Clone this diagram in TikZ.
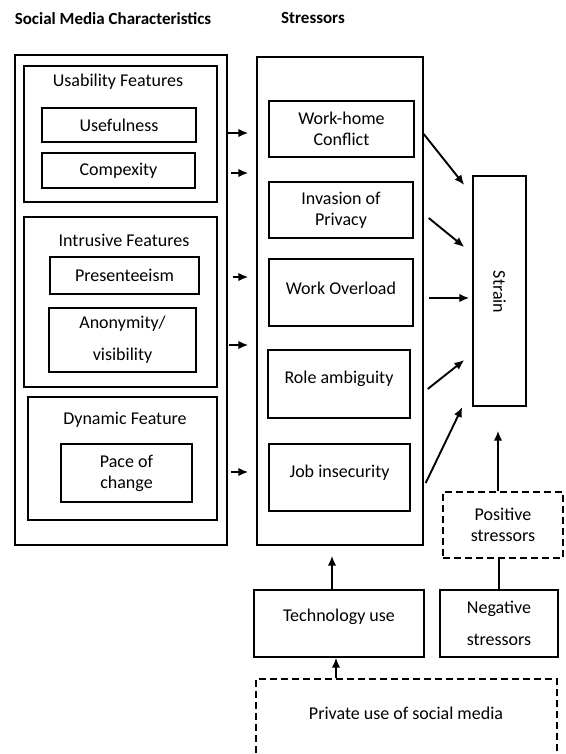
\documentclass[tikz,border=0pt]{standalone}
\usepackage{fontspec}
\setmainfont{Carlito}
\usetikzlibrary{arrows.meta,calc}
\begin{document}
\begin{tikzpicture}[x=1pt,y=-1pt,
  every node/.style={font=\fontsize{18}{21}\selectfont},
  box/.style={draw,line width=1.4pt,inner sep=0pt,align=center},
  dbox/.style={draw,line width=1.4pt,inner sep=0pt,align=center,dash pattern=on 7pt off 4pt},
  title/.style={font=\fontsize{17}{20}\selectfont\bfseries},
  arr/.style={line width=1.9pt,-{Latex[length=10pt,width=8.5pt]}},
  plain/.style={line width=1.9pt}]
\useasboundingbox (0,0) rectangle (565,754);
\clip (0,0) rectangle (565,754);
% headers
\node[title] (h1) at (113,19) {Social Media Characteristics};
\node[title] (h2) at (313,18) {Stressors};
% left column
\node[box,minimum width=212,minimum height=490] (smc) at (121,300) {};
\node[box,minimum width=193,minimum height=136] (usab) at (120.5,134) {};
\node (usabt) at (118,82) {Usability Features};
\node[box,minimum width=154,minimum height=34] (usef) at (119,125) {Usefulness};
\node[box,minimum width=153,minimum height=35] (comp) at (118.5,170.5) {Compexity};
\node[box,minimum width=193,minimum height=170] (intr) at (120.5,302) {};
\node (intrt) at (124,240) {Intrusive Features};
\node[box,minimum width=149,minimum height=37] (pres) at (124.5,275.5) {Presenteeism};
\node[box,minimum width=147,minimum height=64] (anon) at (122.5,340) {Anonymity/\\[11pt]visibility};
\node[box,minimum width=189,minimum height=123] (dyn) at (122.5,458.5) {};
\node (dynt) at (125,420) {Dynamic Feature};
\node[box,minimum width=131,minimum height=58] (pace) at (126.5,473) {Pace of\\change};
% middle column
\node[box,minimum width=166,minimum height=488] (str) at (340,301) {};
\node[box,minimum width=145,minimum height=56] (wh) at (341.5,129) {Work-home\\Conflict};
\node[box,minimum width=144,minimum height=56] (inv) at (341,210) {Invasion of\\Privacy};
\node[box,minimum width=144,minimum height=67] (wo) at (341,292.5) {};
\node (wot) at (341,288) {Work Overload};
\node[box,minimum width=142,minimum height=68] (ra) at (339,384) {};
\node (rat) at (339,379) {Role ambiguity};
\node[box,minimum width=141,minimum height=67] (ji) at (339.5,477.5) {};
\node (jit) at (339.5,473) {Job insecurity};
% right column
\node[box,minimum width=53,minimum height=230] (strain) at (499.5,291) {};
\node[rotate=-90] (straint) at (499.5,292) {Strain};
\node[dbox,minimum width=120,minimum height=66] (pos) at (503,525) {Positive\\stressors};
\node[box,minimum width=118,minimum height=67] (neg) at (499,623.5) {Negative\\[11pt]stressors};
\node[box,minimum width=170,minimum height=67] (tech) at (339,623.5) {};
\node (techt) at (339,617) {Technology use};
\node[dbox,minimum width=301,minimum height=90] (priv) at (406.5,724) {};
\node (privt) at (406,713) {Private use of social media};
% arrows left -> middle
\foreach \yy/\xs in {133/0,173/3,277/5,345/1,472/3}
  \draw[arr,shorten <=\xs pt,shorten >=8pt] (smc.east |- 0,\yy) -- (str.west |- 0,\yy);
% arrows middle -> strain
\draw[arr] (str.east |- 0,134) -- ($(strain.west |- 0,185)+(-8,0)$);
\draw[arr] ($(str.east |- 0,218)+(5,0)$) -- ($(strain.west |- 0,247)+(-8,0)$);
\draw[arr] ($(str.east |- 0,298)+(5,0)$) -- ($(strain.west |- 0,298)+(-3,0)$);
\draw[arr] ($(str.east |- 0,389)+(4,0)$) -- ($(strain.west |- 0,360)+(-8,0)$);
\draw[arr] ($(str.east |- 0,483)+(2,0)$) -- ($(strain.west |- 0,407)+(-10,0)$);
% bottom connections
\coordinate (pp) at ($(pos.north)+(-5,0)$);
\draw[arr,shorten >=24pt] (pp) -- (pp |- strain.south);
\draw[plain] (neg.north) -- (neg.north |- pos.south);
\coordinate (t1) at ($(tech.north)+(-7,0)$);
\draw[arr,shorten >=10pt] (t1) -- (t1 |- str.south);
\coordinate (p1) at (priv.north -| 336,0);
\draw[arr] (p1) -- (p1 |- tech.south);
\end{tikzpicture}
\end{document}
